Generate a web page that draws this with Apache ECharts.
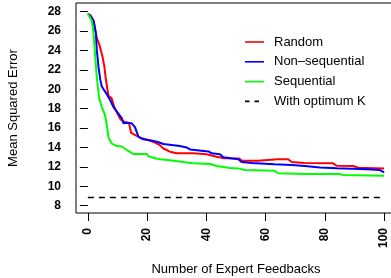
<!DOCTYPE html>
<html>
<head>
<meta charset="utf-8">
<script src="https://cdn.jsdelivr.net/npm/echarts@6/dist/echarts.min.js"></script>
<style>
html, body { margin: 0; padding: 0; background: #fff; }
#chart { width: 391px; height: 278px; }
</style>
</head>
<body>
<div id="chart"></div>
<script>
var xTicks = [0, 20, 40, 60, 80, 100];
var yTicks = [8, 10, 12, 14, 16, 18, 20, 22, 24, 26, 28];

// Random
var randomX = [0, 1, 2, 3, 4, 5, 5.6, 6, 6.6, 7, 8, 9, 10, 11, 12, 13.9, 14.6, 16.5, 18.2, 20, 22, 24, 25.5, 27.7, 30, 35.6, 40, 43.5, 46, 51, 52, 57.5, 64, 67.6, 68.8, 73, 82.8, 84, 89.6, 91.2, 100];
var randomY = [27.8, 27.6, 27.0, 25.3, 24.5, 23.3, 22.3, 21.2, 20.0, 19.3, 19.1, 18.1, 17.5, 16.9, 16.7, 16.5, 15.5, 15.2, 14.95, 14.8, 14.6, 14.3, 13.9, 13.57, 13.4, 13.4, 13.3, 13.05, 12.9, 12.88, 12.64, 12.64, 12.8, 12.8, 12.5, 12.4, 12.37, 12.12, 12.1, 11.92, 11.85];

// Non-sequential
var nonSeqX = [0, 1, 1.9, 2.7, 3, 3.6, 4.2, 4.7, 5.3, 6.4, 7.5, 8.6, 10.3, 11.5, 12, 13.1, 14.8, 15.9, 17.1, 18.7, 21, 23.3, 25.5, 31, 33.4, 34.5, 40.7, 41.8, 44.6, 45.7, 50.8, 51.9, 55.3, 63, 68.8, 73.3, 78.3, 84, 94, 98.6, 100];
var nonSeqY = [27.8, 27.5, 27.1, 25.8, 24.1, 22.3, 21.0, 20.3, 20.0, 19.5, 18.9, 18.2, 17.5, 17.0, 16.5, 16.56, 16.5, 16.1, 15.1, 14.85, 14.75, 14.6, 14.36, 14.15, 14.0, 13.8, 13.6, 13.4, 13.3, 13.0, 12.8, 12.5, 12.4, 12.27, 12.2, 12.1, 11.95, 11.86, 11.75, 11.68, 11.45];

// Sequential
var seqX = [0, 1.3, 1.9, 2.4, 3, 3.8, 4.7, 5.8, 6.4, 7, 8.1, 9.8, 11.5, 13.1, 15.4, 19.9, 20.4, 22.7, 24.4, 27.7, 32.2, 35.6, 41.3, 43.5, 48, 50.8, 53, 63, 64.3, 73.3, 85, 86.2, 100];
var seqY = [27.8, 27.1, 25.8, 23.7, 21.3, 19.1, 18.2, 17.35, 16.3, 15.0, 14.4, 14.15, 14.1, 13.75, 13.33, 13.33, 13.1, 12.9, 12.8, 12.7, 12.5, 12.37, 12.3, 12.1, 11.88, 11.85, 11.68, 11.6, 11.35, 11.28, 11.27, 11.17, 11.1];

// With optimum K
var optX = [0, 100];
var optY = [8.85, 8.85];

function zip(xs, ys) {
	return xs.map(function (x, i) { return [x, ys[i]]; });
}

var font = 'Liberation Sans, Arial, Helvetica, sans-serif';
var solidIcon = 'path://M0,0h19v1.6h-19z';
var dashIcon = 'path://M0,0h4.5v1.6h-4.5z M9.5,0h4.5v1.6h-4.5z M18.95,0h0.05v0.05h-0.05z';
var myChart = echarts.init(document.getElementById('chart'));

function line(name, xs, ys, color, type, w) {
	return {
		name: name,
		type: 'line',
		data: zip(xs, ys),
		showSymbol: false,
		symbol: 'none',
		lineStyle: { color: color, width: w, type: type },
		itemStyle: { color: color }
	};
}

var option = {
	animation: false,
	textStyle: { fontFamily: font },
	grid: { left: 76, top: 3, width: 320, height: 210, outerBoundsMode: 'none', containLabel: false, show: true, borderColor: '#000', borderWidth: 1, backgroundColor: 'transparent' },
	legend: {
		orient: 'vertical',
		left: 245,
		top: 35.5,
		padding: 0,
		itemWidth: 19,
		itemHeight: 14,
		itemGap: 6.8,
		data: [
			{ name: 'Random', icon: solidIcon },
			{ name: 'Non\u2013sequential', icon: solidIcon },
			{ name: 'Sequential', icon: solidIcon },
			{ name: 'With optimum K', icon: dashIcon }
		],
		textStyle: { fontFamily: font, fontSize: 13, color: '#000', padding: [0, 0, 0, 5] }
	},
	xAxis: {
		type: 'value',
		min: -4,
		max: 104,
		name: 'Number of Expert Feedbacks',
		nameLocation: 'middle',
		nameGap: 50,
		nameTextStyle: { fontFamily: font, fontSize: 13, color: '#000' },
		axisLine: { show: false },
		splitLine: { show: false },
		axisTick: { show: true, length: 8, customValues: xTicks, lineStyle: { color: '#000' } },
		axisLabel: { customValues: xTicks, rotate: 90, margin: 15, fontSize: 12, fontWeight: 'bold', color: '#000', fontFamily: font }
	},
	yAxis: {
		type: 'value',
		min: 7.25,
		max: 28.9,
		name: 'Mean Squared Error',
		nameLocation: 'middle',
		nameGap: 56,
		nameTextStyle: { fontFamily: font, fontSize: 13, color: '#000' },
		axisLine: { show: false },
		splitLine: { show: false },
		axisTick: { show: true, length: 8, customValues: yTicks, lineStyle: { color: '#000' } },
		axisLabel: { customValues: yTicks, margin: 15, fontSize: 12, fontWeight: 'bold', color: '#000', fontFamily: font }
	},
	series: [
		line('Random', randomX, randomY, '#ff0000', 'solid', 2),
		line('Non\u2013sequential', nonSeqX, nonSeqY, '#0000ff', 'solid', 2),
		line('Sequential', seqX, seqY, '#00ff00', 'solid', 2),
		line('With optimum K', optX, optY, '#000000', [6, 5], 1.5)
	]
};
myChart.setOption(option);
</script>
</body>
</html>
